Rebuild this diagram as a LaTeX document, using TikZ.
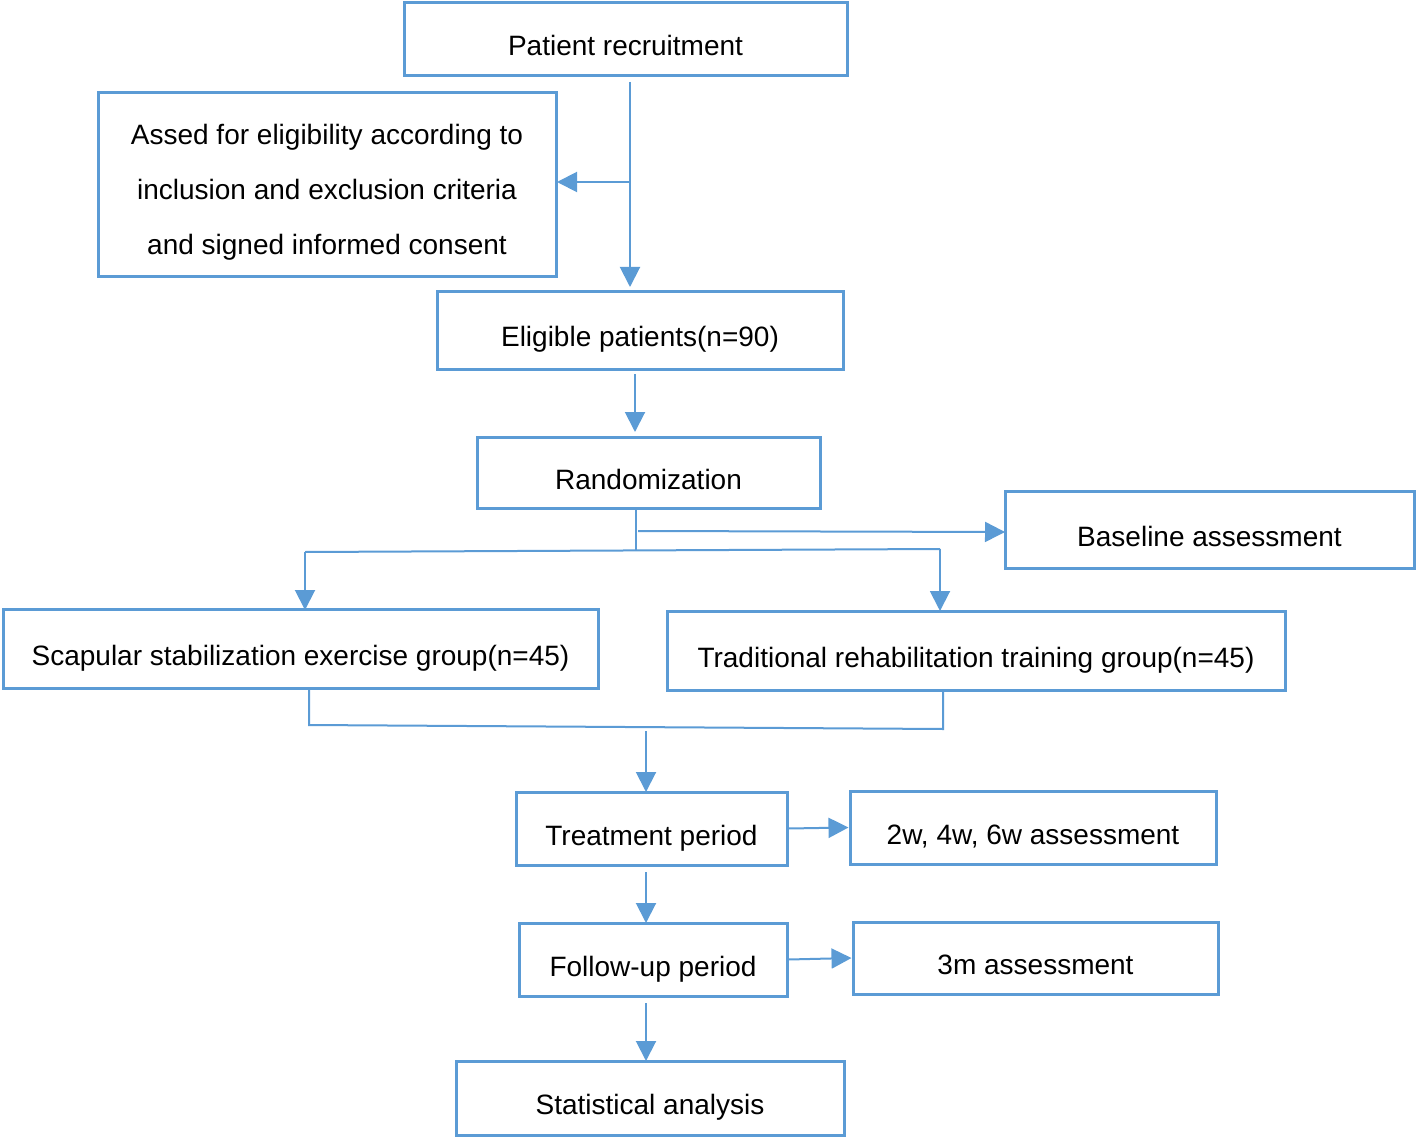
\documentclass[tikz,border=0pt]{standalone}
\usepackage{fontspec}
\setmainfont{Liberation Sans}
\usetikzlibrary{arrows.meta}
\definecolor{edge}{HTML}{5B9BD5}
\begin{document}
\begin{tikzpicture}[x=1pt,y=-1pt,
  box/.style={draw=edge,line width=3pt,inner sep=0pt,align=center,
    font=\fontsize{28}{55}\selectfont},
  one/.style={box,text height=33pt,text depth=0pt},
  conn/.style={draw=edge,line width=2pt},
  arr/.style={conn,-{Triangle[length=20pt,width=20pt]}}]
\useasboundingbox (0,0) rectangle (1418,1139);
\node[one,minimum width=443pt,minimum height=73pt] (rec) at (625.5,39.5) {Patient recruitment};
\node[box,minimum width=458pt,minimum height=184pt] (crit) at (327,185) {\rule{0pt}{35pt}Assed for eligibility according to\\inclusion and exclusion criteria\\and signed informed consent};
\node[one,minimum width=406pt,minimum height=77pt] (elig) at (640,330.5) {Eligible patients(n=90)};
\node[one,minimum width=343pt,minimum height=71pt] (rand) at (648.5,472.5) {Randomization};
\node[one,minimum width=409pt,minimum height=77pt] (base) at (1209.5,529.5) {Baseline assessment};
\node[one,minimum width=595pt,minimum height=79pt] (scap) at (300.5,648.5) {Scapular stabilization exercise group(n=45)};
\node[one,minimum width=618pt,minimum height=79pt] (trad) at (976,650.5) {Traditional rehabilitation training group(n=45)};
\node[one,minimum width=271pt,minimum height=73pt] (treat) at (651.5,828.5) {Treatment period};
\node[one,minimum width=366pt,minimum height=73pt] (wk) at (1033,827.5) {2w, 4w, 6w assessment};
\node[one,minimum width=268pt,minimum height=73pt] (fol) at (653,959.5) {Follow-up period};
\node[one,minimum width=365pt,minimum height=72pt] (mth) at (1035.5,958) {3m assessment};
\node[one,minimum width=388pt,minimum height=74pt] (stat) at (650,1098) {Statistical analysis};
% coordinates
\coordinate (a0) at (630,82);
\coordinate (a1) at (630,287);
\coordinate (ab) at (630,182);
\coordinate (ac) at (557,182);
\coordinate (b0) at (635,374);
\coordinate (b1) at (635,432);
\coordinate (r0) at (636,510);
\coordinate (r1) at (636,550);
\coordinate (rb0) at (638,531);
\coordinate (rb1) at (1005,532);
\coordinate (sl) at (305,552);
\coordinate (sr) at (940,549);
\coordinate (sl1) at (305,610);
\coordinate (sr1) at (940,611);
\coordinate (ml) at (309,690);
\coordinate (mlb) at (309,725);
\coordinate (mrb) at (943,729);
\coordinate (mr) at (943,690);
\coordinate (t0) at (646,731);
\coordinate (t1) at (646,792);
\coordinate (f0) at (646,872);
\coordinate (f1) at (646,923);
\coordinate (s0) at (646,1003);
\coordinate (s1) at (646,1061);
\draw[arr] (a0) -- (a1);
\draw[arr] (ab) -- (ac);
\draw[arr] (b0) -- (b1);
\draw[conn] (r0) -- (r1);
\draw[arr] (rb0) -- (rb1);
\draw[conn] (sl) -- (sr);
\draw[arr] (sl) -- (sl1);
\draw[arr] (sr) -- (sr1);
\draw[conn] (ml) -- (mlb) -- (mrb) -- (mr);
\draw[arr] (t0) -- (t1);
\draw[arr] (treat.east) -- (wk.west);
\draw[arr] (f0) -- (f1);
\draw[arr] (fol.east) -- (mth.west);
\draw[arr] (s0) -- (s1);
\end{tikzpicture}
\end{document}
